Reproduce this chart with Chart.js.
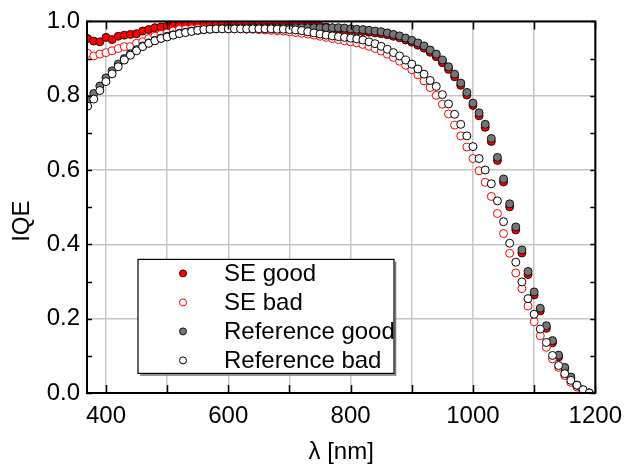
<!DOCTYPE html>
<html>
<head>
<meta charset="utf-8">
<script src="https://cdn.jsdelivr.net/npm/chart.js@4"></script>
<style>
  html, body { margin: 0; padding: 0; background: #ffffff; }
  #wrap { width: 631px; height: 467px; }
</style>
</head>
<body>
<div id="wrap"><canvas id="myChart" width="631" height="467"></canvas></div>
<script>
// wavelength in nm
const wavelength = [
  370, 380, 390, 400, 410, 420, 430, 440, 450, 460,
  470, 480, 490, 500, 510, 520, 530, 540, 550, 560,
  570, 580, 590, 600, 610, 620, 630, 640, 650, 660,
  670, 680, 690, 700, 710, 720, 730, 740, 750, 760,
  770, 780, 790, 800, 810, 820, 830, 840, 850, 860,
  870, 880, 890, 900, 910, 920, 930, 940, 950, 960,
  970, 980, 990, 1000, 1010, 1020, 1030, 1040, 1050, 1060,
  1070, 1080, 1090, 1100, 1110, 1120, 1130, 1140, 1150, 1160,
  1170, 1180, 1190
];

const seGood = [
  0.954, 0.947, 0.945, 0.957, 0.951, 0.960, 0.963, 0.965, 0.967, 0.974,
  0.978, 0.983, 0.985, 0.987, 0.988, 0.990, 0.990, 0.991, 0.991, 0.992,
  0.992, 0.992, 0.992, 0.993, 0.993, 0.993, 0.993, 0.992, 0.992, 0.992,
  0.992, 0.991, 0.991, 0.990, 0.990, 0.989, 0.989, 0.988, 0.987, 0.985,
  0.982, 0.979, 0.977, 0.975, 0.974, 0.973, 0.971, 0.969, 0.967, 0.964,
  0.960, 0.956, 0.950, 0.944, 0.936, 0.928, 0.917, 0.905, 0.889, 0.871,
  0.851, 0.828, 0.802, 0.774, 0.746, 0.715, 0.677, 0.626, 0.568, 0.501,
  0.439, 0.377, 0.319, 0.264, 0.221, 0.174, 0.135, 0.097, 0.065, 0.039,
  0.018, 0.005, 0.000
];

const seBad = [
  0.914, 0.907, 0.912, 0.916, 0.921, 0.927, 0.932, 0.932, 0.941, 0.945,
  0.954, 0.960, 0.965, 0.969, 0.974, 0.978, 0.979, 0.980, 0.981, 0.981,
  0.981, 0.981, 0.981, 0.980, 0.980, 0.980, 0.979, 0.979, 0.978, 0.977,
  0.976, 0.975, 0.974, 0.972, 0.970, 0.968, 0.966, 0.963, 0.960, 0.957,
  0.954, 0.951, 0.948, 0.945, 0.942, 0.938, 0.933, 0.927, 0.920, 0.912,
  0.903, 0.893, 0.882, 0.870, 0.856, 0.840, 0.822, 0.801, 0.777, 0.751,
  0.721, 0.692, 0.662, 0.631, 0.598, 0.567, 0.529, 0.483, 0.429, 0.376,
  0.323, 0.281, 0.234, 0.192, 0.154, 0.123, 0.092, 0.069, 0.047, 0.029,
  0.016, 0.007, 0.000
];

const refGood = [
  0.790, 0.806, 0.826, 0.848, 0.867, 0.885, 0.900, 0.913, 0.924, 0.934,
  0.942, 0.949, 0.955, 0.960, 0.964, 0.968, 0.971, 0.974, 0.976, 0.978,
  0.979, 0.980, 0.981, 0.981, 0.982, 0.982, 0.982, 0.983, 0.983, 0.983,
  0.983, 0.983, 0.983, 0.983, 0.983, 0.983, 0.983, 0.983, 0.983, 0.983,
  0.983, 0.983, 0.982, 0.980, 0.979, 0.978, 0.976, 0.974, 0.972, 0.969,
  0.965, 0.961, 0.955, 0.949, 0.942, 0.934, 0.923, 0.912, 0.896, 0.878,
  0.858, 0.834, 0.809, 0.780, 0.754, 0.723, 0.685, 0.634, 0.576, 0.509,
  0.447, 0.385, 0.327, 0.272, 0.228, 0.181, 0.141, 0.102, 0.069, 0.043,
  0.021, 0.007, 0.000
];

const refBad = [
  0.772, 0.791, 0.814, 0.838, 0.859, 0.878, 0.896, 0.909, 0.921, 0.932,
  0.941, 0.948, 0.954, 0.958, 0.963, 0.967, 0.970, 0.973, 0.976, 0.978,
  0.979, 0.980, 0.980, 0.980, 0.980, 0.980, 0.980, 0.980, 0.980, 0.980,
  0.980, 0.979, 0.979, 0.978, 0.977, 0.975, 0.972, 0.969, 0.966, 0.963,
  0.961, 0.959, 0.957, 0.955, 0.953, 0.950, 0.945, 0.940, 0.933, 0.925,
  0.916, 0.907, 0.896, 0.885, 0.872, 0.858, 0.841, 0.825, 0.803, 0.778,
  0.750, 0.723, 0.692, 0.663, 0.631, 0.600, 0.563, 0.517, 0.461, 0.403,
  0.352, 0.299, 0.254, 0.212, 0.172, 0.136, 0.101, 0.074, 0.052, 0.034,
  0.021, 0.009, 0.000
];

const seriesLabels = ['SE good', 'SE bad', 'Reference good', 'Reference bad'];

// axis ticks
const xGridValues = [400, 500, 600, 700, 800, 900, 1000, 1100, 1200];
const xLabelValues = [400, 600, 800, 1000, 1200];
const yGridValues = [0, 0.2, 0.4, 0.6, 0.8, 1.0];
const yTickMarks = [0, 0.1, 0.2, 0.3, 0.4, 0.5, 0.6, 0.7, 0.8, 0.9, 1.0];

const FONT = "'Liberation Sans', Arial, sans-serif";

function toPoints(values) {
    return wavelength.map((w, i) => ({ x: w, y: values[i] }));
}

// frame with inward ticks, like the original plot
const framePlugin = {
    id: 'frame',
    afterDatasetsDraw(chart) {
        const { ctx, chartArea: a, scales } = chart;
        ctx.save();
        ctx.strokeStyle = '#000';
        ctx.lineWidth = 1.5;
        ctx.beginPath();
        xGridValues.forEach(v => {
            const px = Math.round(scales.x.getPixelForValue(v)) + 0.5;
            ctx.moveTo(px, a.bottom); ctx.lineTo(px, a.bottom - 8);
            ctx.moveTo(px, a.top); ctx.lineTo(px, a.top + 8);
        });
        yTickMarks.forEach(v => {
            const py = Math.round(scales.y.getPixelForValue(v)) + 0.5;
            ctx.moveTo(a.left, py); ctx.lineTo(a.left + 5, py);
            ctx.moveTo(a.right, py); ctx.lineTo(a.right - 5, py);
        });
        ctx.stroke();
        ctx.lineWidth = 2;
        ctx.strokeRect(a.left, a.top, a.right - a.left, a.bottom - a.top);

        // y axis title, sitting a little below the middle as in the original
        ctx.font = '24px ' + FONT;
        ctx.fillStyle = '#000';
        ctx.textAlign = 'center';
        ctx.textBaseline = 'middle';
        ctx.translate(22, (a.top + a.bottom) / 2 + 14);
        ctx.rotate(-Math.PI / 2);
        ctx.fillText('IQE', 0, 0);
        ctx.restore();
    }
};

// boxed legend inside the plot area
const boxLegendPlugin = {
    id: 'boxLegend',
    afterDraw(chart) {
        const { ctx, chartArea: a } = chart;
        const left = a.left + 51, top = a.top + 238;
        const w = 256, h = 114;
        ctx.save();
        ctx.fillStyle = '#fff';
        ctx.fillRect(left, top, w, h);
        ctx.strokeStyle = '#777';
        ctx.lineWidth = 1.5;
        ctx.beginPath();
        ctx.moveTo(left + 2, top + h + 1.5); ctx.lineTo(left + w + 1.5, top + h + 1.5);
        ctx.lineTo(left + w + 1.5, top + 2);
        ctx.stroke();
        ctx.strokeStyle = '#000';
        ctx.lineWidth = 1.2;
        ctx.strokeRect(left, top, w, h);
        ctx.font = '24px ' + FONT;
        ctx.textBaseline = 'middle';
        ctx.textAlign = 'left';
        chart.data.datasets.forEach((ds, i) => {
            const cy = top + 14 + i * 29;
            ctx.beginPath();
            ctx.arc(left + 45, cy, 3.5, 0, Math.PI * 2);
            ctx.fillStyle = ds.pointBackgroundColor;
            ctx.fill();
            ctx.lineWidth = 1;
            ctx.strokeStyle = ds.pointBorderColor;
            ctx.stroke();
            ctx.fillStyle = '#000';
            ctx.fillText(ds.label, left + 86, cy + 1);
        });
        ctx.restore();
    }
};

function makeDataset(label, values, fill, border, order) {
    return {
        label: label,
        data: toPoints(values),
        pointRadius: 4,
        pointHoverRadius: 4,
        pointBorderWidth: 1,
        pointBackgroundColor: fill,
        pointBorderColor: border,
        backgroundColor: fill,
        borderColor: border,
        showLine: false,
        order: order
    };
}

const ctx = document.getElementById('myChart').getContext('2d');
new Chart(ctx, {
    type: 'scatter',
    data: {
        datasets: [
            makeDataset(seriesLabels[0], seGood, '#ff0000', '#3a0000', 4),
            makeDataset(seriesLabels[1], seBad, '#ffffff', '#ff0000', 3),
            makeDataset(seriesLabels[2], refGood, '#767676', '#111111', 2),
            makeDataset(seriesLabels[3], refBad, '#ffffff', '#000000', 1)
        ]
    },
    options: {
        responsive: false,
        animation: false,
        devicePixelRatio: 1,
        layout: { padding: { top: 18, right: 29, bottom: 0, left: 0 } },
        scales: {
            x: {
                type: 'linear',
                min: 369,
                max: 1200,
                afterBuildTicks(scale) {
                    scale.ticks = xGridValues.map(v => ({ value: v }));
                },
                afterFit(scale) { scale.height = 74; },
                grid: { color: '#c6c6c6', lineWidth: 1.5, drawTicks: false },
                border: { display: false },
                ticks: {
                    padding: 9,
                    color: '#000',
                    font: { family: FONT, size: 24 },
                    maxRotation: 0,
                    autoSkip: false,
                    callback: v => xLabelValues.includes(v) ? String(v) : ''
                },
                title: {
                    display: true,
                    text: 'λ [nm]',
                    color: '#000',
                    font: { family: FONT, size: 24 },
                    padding: { top: 0, bottom: 0 }
                }
            },
            y: {
                min: 0,
                max: 1.0,
                afterBuildTicks(scale) {
                    scale.ticks = yGridValues.map(v => ({ value: v }));
                },
                afterFit(scale) { scale.width = 87; },
                grid: { color: '#c6c6c6', lineWidth: 1.5, drawTicks: false },
                border: { display: false },
                ticks: {
                    padding: 7,
                    color: '#000',
                    font: { family: FONT, size: 24 },
                    callback: v => v.toFixed(1)
                }
            }
        },
        plugins: {
            legend: { display: false },
            tooltip: { enabled: false }
        }
    },
    plugins: [framePlugin, boxLegendPlugin]
});
</script>
</body>
</html>
